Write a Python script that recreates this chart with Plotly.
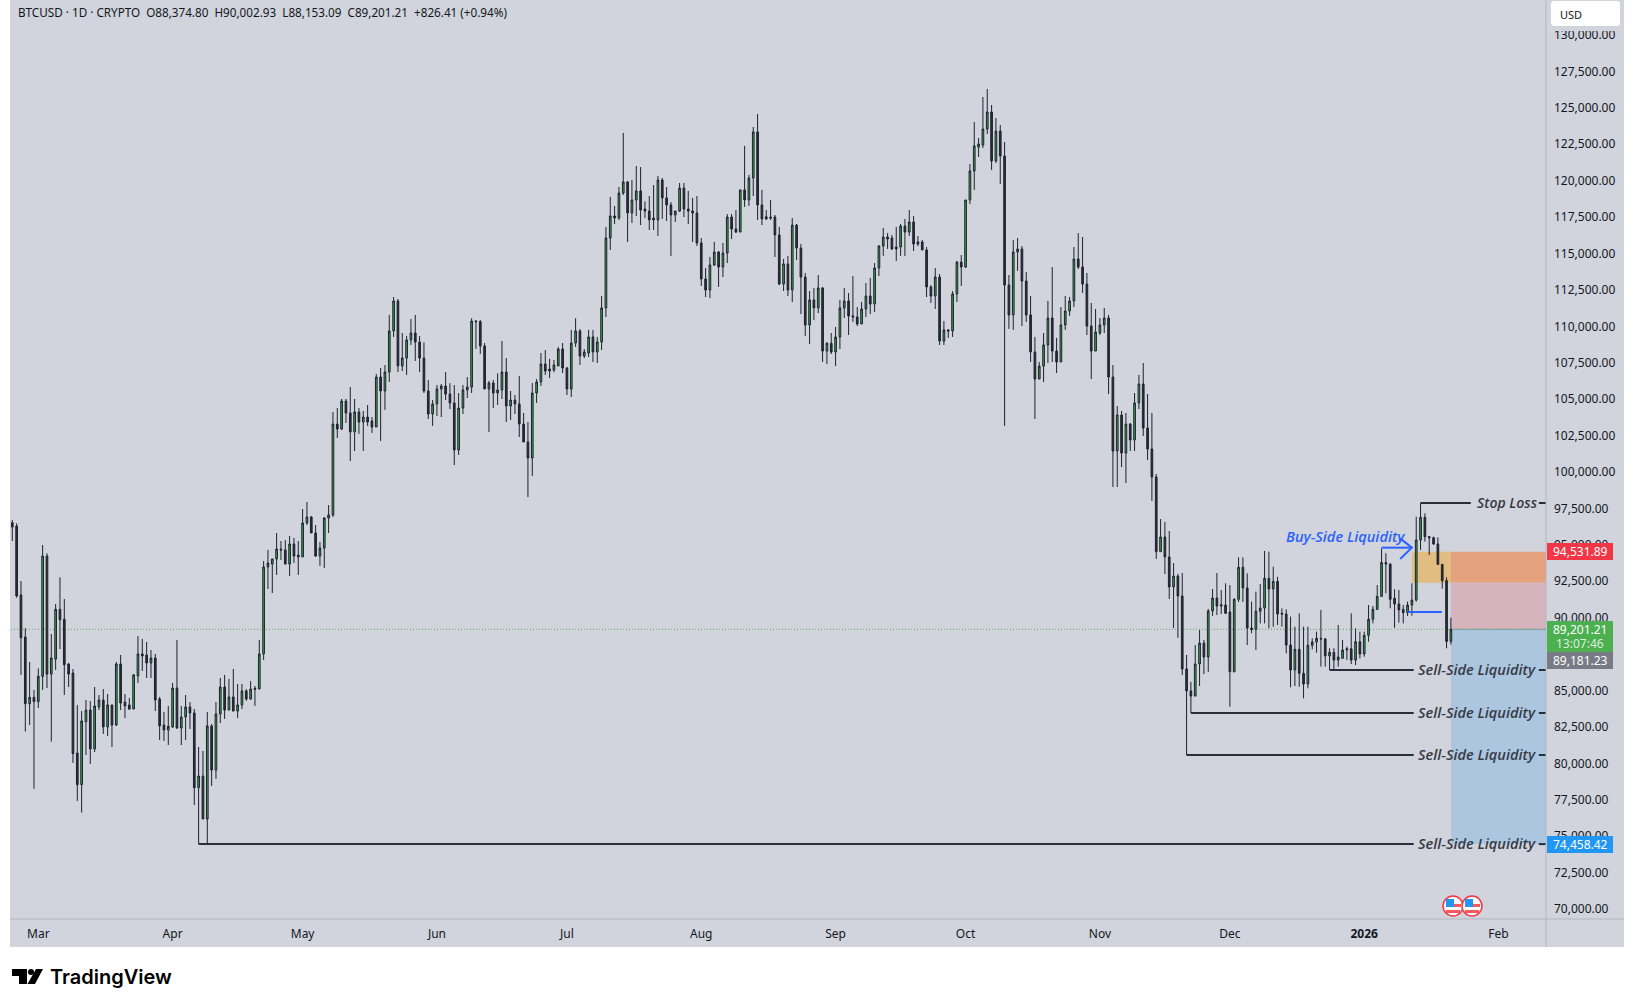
import pandas as pd
import plotly.graph_objects as go

# daily BTCUSD candles, Feb 23 2025 onwards
open_prices = [
    96520, 96290, 91560, 88670, 84100, 84530, 84240, 85970, 94230, 86130,
    87160, 90570, 89890, 86820, 86200, 80710, 78540, 82860, 83660, 80990,
    83870, 84350, 82500, 84010, 82630, 86820, 84210, 84010, 83730, 86000,
    87510, 87440, 86890, 87230, 84420, 82630, 82290, 82500, 85170, 82430,
    83180, 83870, 83460, 78330, 79130, 76180, 82570, 79540, 83390, 85240,
    83660, 84560, 83590, 84010, 84970, 84420, 85150, 85100, 87510, 93480,
    93680, 94030, 94710, 94650, 93680, 95060, 94300, 94170, 96500, 96910,
    95810, 94230, 94780, 96840, 97050, 103290, 102950, 104870, 104050, 102750,
    104120, 103430, 103770, 103500, 103090, 106520, 105560, 106860, 109680, 111740,
    107280, 107820, 109060, 109540, 108920, 107820, 105560, 103980, 104670, 105700,
    105900, 105350, 104740, 101510, 104390, 105630, 105830, 110360, 110320, 108650,
    105700, 106110, 105420, 105630, 106860, 104530, 104940, 104670, 103290, 102060,
    100960, 105420, 106180, 107410, 107070, 107000, 107280, 108440, 107140, 105700,
    108850, 109680, 107960, 108170, 109270, 108240, 108920, 111260, 116060, 117570,
    117430, 119150, 119910, 117780, 118670, 119290, 118050, 117910, 117430, 117300,
    120040, 118810, 118330, 117640, 117910, 119490, 118050, 117910, 117780, 115720,
    113250, 112490, 114210, 115100, 114070, 115030, 117500, 116680, 116470, 119360,
    118670, 120180, 123340, 118330, 117520, 117500, 117500, 116270, 112900, 114280,
    112490, 116950, 115370, 113380, 110090, 111810, 111260, 112630, 108300, 108830,
    108240, 109270, 111260, 111740, 110710, 110640, 110160, 111190, 112080, 111530,
    114000, 115510, 116130, 116060, 115440, 115440, 116880, 116470, 117160, 115790,
    115790, 115240, 112700, 112080, 113380, 108990, 109750, 109680, 112220, 114410,
    114070, 118670, 120660, 122310, 122450, 123540, 124710, 121350, 123400, 121690,
    112830, 110780, 115100, 115310, 113110, 110780, 108240, 106380, 107270, 108720,
    110570, 108300, 107550, 110090, 111050, 111740, 114620, 114070, 112900, 110020,
    108300, 109540, 110090, 110570, 106520, 101440, 103910, 101300, 103290, 102200,
    104740, 106040, 103020, 101580, 99660, 94530, 95540, 94170, 92110, 92860,
    91490, 86480, 84970, 84620, 86820, 88260, 87300, 90460, 91350, 90890,
    90870, 90390, 86290, 91260, 93460, 92040, 89290, 89200, 90440, 90660,
    92700, 91970, 92490, 90300, 90250, 88120, 86410, 87830, 86180, 85450,
    88100, 88330, 88580, 88540, 87370, 87620, 87090, 87210, 87780, 87870,
    87090, 88350, 87510, 88790, 89890, 90570, 91460, 93780, 93680, 91330,
    90940, 90570, 90340, 90870, 91210, 95330, 96890, 95560, 95490, 95060,
    93660, 92540, 88374.80,
]
high_prices = [
    96700, 96480, 92520, 89270, 86960, 85040, 86520, 94990, 94420, 88880,
    90940, 92770, 91280, 86890, 86480, 84010, 83590, 84350, 84280, 85240,
    84690, 85100, 84760, 84010, 86960, 87440, 84760, 84490, 86130, 88740,
    88540, 88330, 87780, 87510, 84560, 83530, 83940, 85520, 88470, 83940,
    84690, 84210, 83730, 81120, 80850, 83530, 82700, 84210, 85860, 86070,
    85790, 86480, 85450, 85450, 85100, 85650, 85310, 88470, 93890, 94650,
    94030, 95810, 95260, 95330, 95610, 95470, 95260, 97460, 97940, 96980,
    96360, 95190, 96910, 97730, 104120, 104390, 105010, 105010, 105830, 105010,
    104390, 104190, 104600, 103770, 106730, 107140, 107340, 110780, 112010, 111870,
    109540, 109330, 110500, 110780, 109330, 108900, 106310, 104940, 105970, 106040,
    106860, 106090, 105970, 105420, 105970, 106520, 110550, 110430, 110430, 108850,
    106250, 106310, 106770, 108990, 107820, 105560, 105290, 106590, 104050, 103430,
    106110, 106380, 108170, 108370, 107760, 107690, 108580, 108850, 107210, 109750,
    110550, 109810, 108440, 109750, 109750, 109270, 112080, 116820, 118880, 118260,
    119560, 123270, 119970, 120040, 121000, 120930, 118580, 118940, 119700, 120320,
    120180, 119560, 118530, 117910, 119840, 119840, 119290, 118810, 118940, 116060,
    114000, 114760, 115790, 115170, 115720, 117710, 117710, 117980, 119360, 122380,
    120390, 123680, 124570, 119360, 117980, 118670, 117640, 116820, 114620, 114830,
    117430, 117020, 115650, 113660, 112420, 112630, 113520, 112700, 108920, 109540,
    109950, 111810, 112630, 112290, 113450, 111320, 111670, 112970, 113320, 114340,
    115580, 116750, 116400, 116270, 116820, 117020, 117370, 117980, 117570, 116200,
    115920, 115440, 112830, 114000, 113590, 110360, 109810, 112420, 114480, 114890,
    118670, 121140, 124020, 122920, 125740, 126290, 125190, 124300, 123820, 122650,
    113520, 115920, 116060, 115510, 113730, 112080, 109270, 107550, 109540, 111740,
    114070, 109200, 111320, 112080, 112010, 115440, 116400, 116130, 113660, 111600,
    111190, 110570, 111260, 110780, 107340, 104530, 104190, 104050, 103360, 105420,
    106660, 107480, 105350, 104050, 99860, 96770, 96570, 95950, 93750, 93000,
    93070, 87440, 85590, 88120, 89150, 88470, 90600, 91970, 93070, 91900,
    92360, 92240, 91330, 94140, 94140, 93040, 91100, 91790, 92310, 94580,
    94530, 93500, 92810, 90640, 90570, 90070, 89380, 90300, 89380, 89380,
    88580, 89040, 90530, 88610, 87900, 87900, 89500, 88470, 88010, 90300,
    89270, 89040, 89040, 90870, 90800, 92240, 94760, 94420, 93730, 91950,
    91900, 90870, 91100, 92360, 96930, 97870, 97160, 95610, 95560, 95510,
    93660, 92770, 90002.93,
]
low_prices = [
    95260, 91370, 86070, 82180, 82630, 78260, 83800, 85040, 85170, 81490,
    86410, 87850, 84690, 85240, 80030, 77420, 76620, 80570, 79960, 80780,
    83660, 82020, 81880, 81120, 82570, 83660, 83110, 83660, 83730, 85520,
    86340, 85860, 85860, 83590, 81600, 81540, 81260, 82430, 82360, 81260,
    81600, 82360, 77140, 74458, 76180, 74500, 78450, 78930, 82770, 83050,
    83660, 83590, 83110, 83730, 84280, 84350, 83940, 85100, 87100, 91970,
    91690, 92930, 93960, 93680, 92860, 93750, 92930, 94170, 96360, 95810,
    94170, 93550, 93410, 95810, 96910, 102330, 102880, 103360, 100750, 101440,
    102610, 101440, 103160, 102680, 103090, 102130, 104260, 106180, 109270, 106860,
    106930, 106660, 108720, 107620, 106860, 105420, 103640, 103160, 103840, 103770,
    104940, 104320, 100480, 101170, 103980, 105080, 105420, 108440, 108100, 105700,
    102750, 104390, 104600, 105010, 103430, 103570, 103980, 102400, 102060, 98280,
    99730, 104740, 105900, 106660, 106450, 106860, 107280, 106790, 105280, 105150,
    108580, 107340, 107820, 107890, 107550, 107480, 108370, 110640, 115240, 117020,
    117300, 119010, 115790, 117090, 117570, 116950, 117430, 116610, 116610, 116200,
    117370, 117230, 114830, 117160, 117850, 117500, 117020, 115790, 115510, 112770,
    112010, 111940, 114140, 112700, 113380, 114340, 115990, 116400, 116470, 118190,
    118260, 118940, 117300, 116950, 117300, 117300, 114760, 112830, 112420, 112080,
    111670, 114550, 110840, 109330, 108790, 110430, 110910, 107550, 107410, 108100,
    107270, 108440, 110570, 109400, 110300, 110020, 110160, 110640, 110840, 110980,
    113450, 114830, 115310, 115240, 114480, 114830, 114830, 116200, 115170, 115510,
    115240, 112010, 111600, 111190, 108720, 108720, 109200, 109270, 111670, 112770,
    114000, 118390, 119360, 121620, 122240, 123200, 120730, 121210, 119770, 103160,
    109820, 109750, 113800, 110020, 110300, 107550, 103640, 106380, 106180, 107480,
    107550, 106790, 107550, 109750, 110710, 111320, 113930, 112290, 109400, 106380,
    108300, 109400, 109540, 105350, 98970, 98970, 100340, 99240, 101440, 101440,
    104320, 102470, 100820, 98010, 94030, 94510, 93000, 91280, 89290, 88610,
    86070, 80570, 83460, 84620, 85310, 86130, 86270, 90120, 90180, 90250,
    90250, 83890, 86250, 91080, 91080, 88120, 88930, 87780, 89610, 89610,
    89270, 89380, 89500, 89380, 87550, 85220, 85310, 85260, 84460, 85150,
    87830, 87600, 86640, 86640, 86410, 86450, 86640, 87210, 87090, 86820,
    86750, 87210, 87320, 88350, 89610, 90530, 91440, 91670, 90640, 89310,
    89660, 89610, 90120, 90140, 91100, 94650, 95220, 94300, 94990, 93620,
    91990, 87900, 88153.09,
]
close_prices = [
    96220, 91490, 88630, 84100, 84530, 84240, 85970, 94230, 86130, 87230,
    90570, 89860, 86770, 86130, 80670, 78540, 82910, 83660, 80990, 83940,
    84350, 82500, 84010, 82630, 86820, 84140, 83940, 83730, 86070, 87510,
    87370, 86890, 87230, 84350, 82570, 82290, 82540, 85170, 82430, 83180,
    83870, 83460, 78330, 79130, 76180, 82570, 79540, 83390, 85240, 83660,
    84560, 83590, 84010, 84970, 84420, 85100, 85080, 87510, 93480, 93750,
    94030, 94710, 94650, 93680, 95060, 94230, 94170, 96500, 96910, 95810,
    94230, 94780, 96840, 97050, 103290, 102950, 104870, 104050, 102750, 104120,
    103430, 103770, 103430, 103090, 106520, 105560, 106860, 109680, 111740, 107280,
    107820, 109060, 109540, 108920, 107820, 105560, 103980, 104670, 105700, 105900,
    105350, 104740, 101510, 104390, 105630, 105830, 110360, 110320, 108650, 105700,
    106110, 105420, 105630, 106860, 104530, 104940, 104670, 103290, 102060, 100960,
    105420, 106180, 107410, 106930, 106930, 107340, 108440, 107140, 105700, 108850,
    109680, 107960, 108240, 109270, 108240, 108920, 111260, 116060, 117570, 117430,
    119150, 119910, 117780, 118670, 119290, 117980, 117910, 117300, 117300, 120040,
    118810, 118330, 117640, 117910, 119490, 118050, 117910, 117780, 115720, 113250,
    112490, 114210, 115100, 114070, 115030, 117500, 116680, 116470, 119360, 118670,
    120180, 123340, 118330, 117370, 117370, 117430, 116270, 112900, 114280, 112490,
    116950, 115370, 113380, 110090, 111810, 111260, 112630, 108300, 108830, 108240,
    109270, 111260, 111740, 110710, 110640, 110160, 111190, 112080, 111530, 114000,
    115510, 116130, 115990, 115310, 115310, 116880, 116470, 117160, 115650, 115650,
    115240, 112700, 112080, 113380, 108990, 109750, 109680, 112220, 114410, 114070,
    118670, 120660, 122380, 122510, 123540, 124710, 121350, 123400, 121690, 112830,
    110780, 115100, 115310, 113110, 110780, 108240, 106380, 107270, 108720, 110570,
    108300, 107550, 110090, 111050, 111740, 114620, 114070, 112900, 110020, 108300,
    109610, 110090, 110570, 106520, 101440, 103910, 101300, 103290, 102200, 104740,
    106040, 103020, 101580, 99660, 94530, 95540, 94170, 92110, 92860, 91490,
    86480, 84970, 84620, 86820, 88260, 87300, 90460, 91350, 90800, 90800,
    90300, 86290, 91260, 93460, 92040, 89290, 89200, 90440, 90660, 92700,
    91970, 92490, 90250, 90250, 88120, 86410, 87830, 86180, 85450, 88100,
    88330, 88580, 88540, 87370, 87620, 87090, 87300, 87780, 87870, 87090,
    88350, 87510, 88790, 89890, 90570, 91460, 93780, 93680, 91260, 90940,
    90530, 90340, 90870, 91210, 95330, 96890, 95560, 95490, 95060, 93660,
    92540, 88370, 89201.21,
]
dates = pd.date_range("2025-02-23", periods=len(close_prices), freq="D")

month_ticks = ["2025-03-01", "2025-04-01", "2025-05-01", "2025-06-01", "2025-07-01", "2025-08-01",
               "2025-09-01", "2025-10-01", "2025-11-01", "2025-12-01", "2026-01-01", "2026-02-01"]
month_labels = ["Mar", "Apr", "May", "Jun", "Jul", "Aug", "Sep", "Oct", "Nov", "Dec", "<b>2026</b>", "Feb"]

# levels drawn on the chart
sell_side_levels = [86408, 83457, 80574, 74458.42]
sell_side_starts = ["2025-12-24", "2025-11-22", "2025-11-21", "2025-04-07"]
stop_level = 97870
entry_top = 94531.89
entry_mid = 92400
last_close = 89201.21
target_level = 74458.42
buy_side_level = 94805
buy_side_low = 90389

X_START = "2025-02-22 16:48"
X_END = "2026-02-11 22:48"
Y_RANGE = [69317, 132397]
W, H = 1634, 1007
BG = "#d1d4dc"
AXIS = "#b2b5be"
DARK = "#2a2e39"
BLUE = "#2962ff"
TXT = "#131722"


def px(x):
    return x / W


def py(y):
    return 1 - y / H


def poly(pts, close=True):
    s = "M" + " L".join(f"{px(a):.5f},{py(b):.5f}" for a, b in pts)
    return s + (" Z" if close else "")


def rect_px(x0, y0, x1, y1, color, layer="above"):
    return dict(type="rect", xref="paper", yref="paper", x0=px(x0), x1=px(x1), y0=py(y0), y1=py(y1),
                fillcolor=color, line_width=0, layer=layer)


def zone(x0, x1, y0, y1, color):
    return dict(type="rect", xref="x", yref="y", x0=x0, x1=x1, y0=y0, y1=y1,
                fillcolor=color, line_width=0, layer="below")


def seg(xs, ys, color=DARK, width=2):
    return go.Scatter(x=xs, y=ys, mode="lines", line=dict(color=color, width=width),
                      hoverinfo="skip", showlegend=False)


fig = go.Figure()

fig.add_trace(go.Candlestick(
    x=dates, open=open_prices, high=high_prices, low=low_prices, close=close_prices,
    increasing=dict(line=dict(color="#1e222d", width=1), fillcolor="#34ad49"),
    decreasing=dict(line=dict(color="#1e222d", width=1), fillcolor=DARK),
    whiskerwidth=0, showlegend=False,
))

# liquidity lines, with the small dash that comes back after the label
for lvl, start in zip(sell_side_levels, sell_side_starts):
    fig.add_trace(seg([start, "2026-01-12 10:00"], [lvl, lvl]))
    fig.add_trace(seg(["2026-02-10 07:00", X_END], [lvl, lvl]))
fig.add_trace(seg(["2026-01-14", "2026-01-25 14:00"], [stop_level, stop_level]))
fig.add_trace(seg(["2026-02-10 07:00", X_END], [stop_level, stop_level]))

# buy side arrow
fig.add_trace(seg(["2026-01-05", "2026-01-12"], [buy_side_level, buy_side_level], BLUE))
fig.add_trace(seg(["2026-01-09 07:00", "2026-01-12", "2026-01-09 07:00"], [95445, buy_side_level, 94027], BLUE))
fig.add_trace(seg(["2026-01-11", "2026-01-18 22:00"], [buy_side_low, buy_side_low], BLUE))

shapes = [
    rect_px(10, 0, 1624, 947, BG, "below"),
    zone("2026-01-12", "2026-01-21", entry_mid, entry_top, "#e1bd82"),
    zone("2026-01-21", X_END, entry_mid, entry_top, "#e4a27c"),
    zone("2026-01-21", X_END, last_close, entry_mid, "#d5b4bd"),
    zone("2026-01-21", X_END, target_level, last_close, "#adc6e0"),
    dict(type="line", xref="x", yref="y", x0="2026-01-21", x1=X_END, y0=last_close, y1=last_close,
         line=dict(color="#8f9aa8", width=1), layer="below"),
    dict(type="line", xref="x", yref="y", x0=X_START, x1=X_END, y0=last_close, y1=last_close,
         line=dict(color="#4caf50", width=1, dash="1px,2px"), layer="below"),
    dict(type="line", xref="paper", yref="paper", x0=px(1546), x1=px(1546), y0=py(0), y1=py(947),
         line=dict(color=AXIS, width=1), layer="above"),
    dict(type="line", xref="paper", yref="paper", x0=px(10), x1=px(1624), y0=py(919), y1=py(919),
         line=dict(color=AXIS, width=1), layer="above"),
    # USD button, with the panel colour clipping the top tick under it
    rect_px(1548, 0, 1622, 31, BG),
    dict(type="path", xref="paper", yref="paper", layer="above", fillcolor="#ffffff", line_width=0,
         path=poly([(1551, 3), (1553, 1), (1618, 1), (1620, 3), (1620, 24), (1618, 26), (1553, 26), (1551, 24)])),
    # price tags
    rect_px(1547, 543, 1613, 560, "#f23645"),
    rect_px(1547, 621, 1613, 652, "#4caf50"),
    rect_px(1547, 652, 1613, 669, "#787b86"),
    rect_px(1547, 836, 1613, 853, "#2196f3"),
    # logo
    dict(type="path", xref="paper", yref="paper", layer="above", fillcolor="#000000", line_width=0,
         path=poly([(12, 969), (27, 969), (27, 984), (19, 984), (19, 976), (12, 976)])),
    dict(type="path", xref="paper", yref="paper", layer="above", fillcolor="#000000", line_width=0,
         path=poly([(36, 969), (43, 969), (35, 984), (27.5, 984)])),
    dict(type="circle", xref="paper", yref="paper", layer="above", fillcolor="#000000", line_width=0,
         x0=px(28), x1=px(34), y0=py(969), y1=py(975)),
]

# the two US event flags
for cx in [1453, 1472]:
    shapes += [
        dict(type="circle", xref="paper", yref="paper", layer="above", fillcolor="#ffffff",
             line=dict(color="#f23645", width=1.5),
             x0=px(cx - 10), x1=px(cx + 10), y0=py(896), y1=py(916)),
        rect_px(cx + 1, 904, cx + 8, 907, "#f7595f"),
        rect_px(cx - 7, 910, cx + 7, 913, "#f7595f"),
        rect_px(cx - 7, 899, cx + 1, 907, "#2196f3"),
    ]

fig.update_layout(
    width=W, height=H, margin=dict(l=0, r=0, t=0, b=0),
    paper_bgcolor="#ffffff", plot_bgcolor="rgba(0,0,0,0)",
    showlegend=False, shapes=shapes, boxgap=0.45,
    font=dict(family="Noto Sans", size=12, color=TXT),
    xaxis=dict(
        domain=[px(11), px(1546)], range=[X_START, X_END], rangeslider=dict(visible=False),
        tickmode="array", tickvals=month_ticks, ticktext=month_labels,
        showgrid=False, zeroline=False, ticks="", ticklabelstandoff=6,
        tickfont=dict(family="Noto Sans", size=12, color=TXT),
    ),
    yaxis=dict(
        domain=[py(919), 1], range=Y_RANGE, side="right", tick0=70000, dtick=2500,
        tickformat=",.2f", showgrid=False, zeroline=False, ticks="", ticklabelstandoff=7,
        tickfont=dict(family="Noto Sans", size=12, color=TXT),
    ),
)


def label(x, y, text, size=12, color=TXT, anchor="left", family="Noto Sans", **font_kw):
    fig.add_annotation(xref="paper", yref="paper", x=px(x), y=py(y), text=text, showarrow=False,
                       xanchor=anchor, yanchor="middle", borderpad=0,
                       font=dict(family=family, size=size, color=color, **font_kw))


label(17, 12, "BTCUSD · 1D · CRYPTO\u00a0\u00a0O88,374.80\u00a0\u00a0H90,002.93\u00a0\u00a0L88,153.09"
      "\u00a0\u00a0C89,201.21\u00a0\u00a0+826.41 (+0.94%)", size=11.7)
label(1559, 14, "USD", size=11)
label(1580, 551.5, "94,531.89", color="#ffffff", anchor="center")
label(1580, 629, "89,201.21", color="#ffffff", anchor="center")
label(1580, 643, "13:07:46", color="#dcefdd", anchor="center")
label(1580, 660, "89,181.23", color="#ffffff", anchor="center")
label(1580, 844.5, "74,458.42", color="#ffffff", anchor="center")

drawn_font = dict(family="Open Sans", size=14.6, style="italic", weight=600)
for lvl in sell_side_levels:
    fig.add_annotation(xref="paper", yref="y", x=px(1416), y=lvl, yshift=1, text="Sell-Side Liquidity", showarrow=False,
                       xanchor="left", yanchor="middle", font=dict(color="#363a45", **drawn_font))
fig.add_annotation(xref="paper", yref="y", x=px(1475), y=stop_level, yshift=1, text="Stop Loss", showarrow=False,
                   xanchor="left", yanchor="middle", font=dict(color="#363a45", family="Open Sans", size=14,
                                                              style="italic", weight=600))
fig.add_annotation(xref="paper", yref="paper", x=px(1284), y=py(536), text="Buy-Side Liquidity", showarrow=False,
                   xanchor="left", yanchor="middle", font=dict(color=BLUE, **drawn_font))

label(49, 977, "TradingView", size=20, color="#000000", family="Inter", weight=600)

fig.write_html("out.html", config={"displayModeBar": False},
               post_script="document.body.style.margin='0';document.body.style.overflow='hidden';")
